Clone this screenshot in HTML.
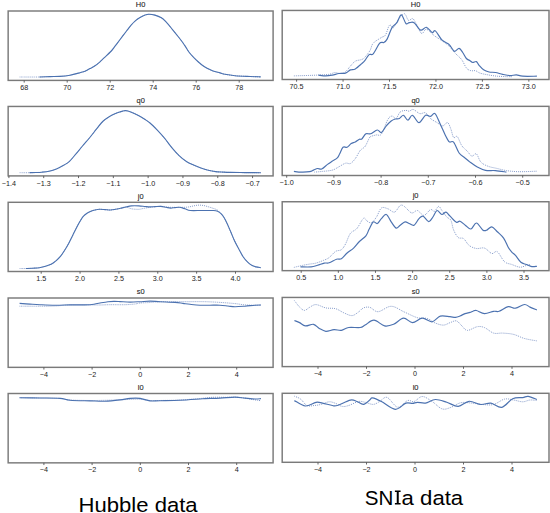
<!DOCTYPE html>
<html><head><meta charset="utf-8"><style>
html,body{margin:0;padding:0;background:#fff;width:550px;height:513px;overflow:hidden}
svg{display:block}
.t{font-family:"Liberation Sans",sans-serif;font-size:8.1px;fill:#222;stroke:#222;stroke-width:0.1px}
.k{font-family:"Liberation Sans",sans-serif;font-size:7.2px;fill:#222}
.b{font-family:"Liberation Sans",sans-serif;font-size:19.5px;fill:#000}
</style></head><body>
<svg width="550" height="513" viewBox="0 0 550 513">
<rect width="550" height="513" fill="#fff"/>
<path d="M19.70,77.00 C22.98,77.00 34.35,77.07 39.40,77.00 C44.45,76.93 46.57,76.70 50.00,76.60 C53.43,76.50 56.67,76.63 60.00,76.40 C63.33,76.17 66.67,75.82 70.00,75.20 C73.33,74.58 77.50,73.37 80.00,72.70 C82.50,72.03 83.33,71.88 85.00,71.20 C86.67,70.52 88.33,69.50 90.00,68.60 C91.67,67.70 93.33,66.93 95.00,65.80 C96.67,64.67 98.53,63.08 100.00,61.80 C101.47,60.52 102.00,59.82 103.80,58.10 C105.60,56.38 109.13,53.22 110.80,51.50 C112.47,49.78 112.77,49.12 113.80,47.80 C114.83,46.48 115.60,45.45 117.00,43.60 C118.40,41.75 120.62,38.80 122.20,36.70 C123.78,34.60 125.05,32.88 126.50,31.00 C127.95,29.12 129.48,27.03 130.90,25.40 C132.32,23.77 133.55,22.47 135.00,21.20 C136.45,19.93 137.92,18.82 139.60,17.80 C141.28,16.78 143.55,15.68 145.10,15.10 C146.65,14.52 147.27,14.30 148.90,14.30 C150.53,14.30 152.82,14.52 154.90,15.10 C156.98,15.68 159.58,16.72 161.40,17.80 C163.22,18.88 163.98,19.68 165.80,21.60 C167.62,23.52 170.12,26.65 172.30,29.30 C174.48,31.95 177.17,35.30 178.90,37.50 C180.63,39.70 181.60,40.98 182.70,42.50 C183.80,44.02 184.47,45.02 185.50,46.60 C186.53,48.18 187.55,50.20 188.90,52.00 C190.25,53.80 192.02,55.73 193.60,57.40 C195.18,59.07 196.83,60.62 198.40,62.00 C199.97,63.38 201.40,64.58 203.00,65.70 C204.60,66.82 206.33,67.82 208.00,68.70 C209.67,69.58 211.00,70.30 213.00,71.00 C215.00,71.70 218.00,72.35 220.00,72.90 C222.00,73.45 222.50,73.83 225.00,74.30 C227.50,74.77 230.83,75.33 235.00,75.70 C239.17,76.07 245.70,76.30 250.00,76.50 C254.30,76.70 259.00,76.83 260.80,76.90" fill="none" stroke="#7b93c6" stroke-width="1" stroke-dasharray="0.9 1.1"/>
<path d="M19.70,172.70 C21.33,172.70 26.78,172.73 29.50,172.70 C32.22,172.67 33.95,172.58 36.00,172.50 C38.05,172.42 39.62,172.42 41.80,172.20 C43.98,171.98 46.67,171.73 49.10,171.20 C51.53,170.67 53.98,169.98 56.40,169.00 C58.82,168.02 61.42,166.58 63.60,165.30 C65.78,164.02 67.55,163.07 69.50,161.30 C71.45,159.53 73.13,157.25 75.30,154.70 C77.47,152.15 80.08,148.87 82.50,146.00 C84.92,143.13 87.48,140.30 89.80,137.50 C92.12,134.70 94.25,131.87 96.40,129.20 C98.55,126.53 100.58,123.57 102.70,121.50 C104.82,119.43 106.97,118.13 109.10,116.80 C111.23,115.47 113.38,114.40 115.50,113.50 C117.62,112.60 120.12,111.88 121.80,111.40 C123.48,110.92 124.12,110.52 125.60,110.60 C127.08,110.68 128.57,111.08 130.70,111.90 C132.83,112.72 136.07,114.27 138.40,115.50 C140.73,116.73 142.77,118.05 144.70,119.30 C146.63,120.55 147.90,121.18 150.00,123.00 C152.10,124.82 154.88,127.67 157.30,130.20 C159.72,132.73 162.08,135.30 164.50,138.20 C166.92,141.10 169.37,144.70 171.80,147.60 C174.23,150.50 176.67,153.28 179.10,155.60 C181.53,157.92 183.98,159.92 186.40,161.50 C188.82,163.08 191.18,164.02 193.60,165.10 C196.02,166.18 198.47,167.15 200.90,168.00 C203.33,168.85 205.77,169.60 208.20,170.20 C210.63,170.80 213.08,171.28 215.50,171.60 C217.92,171.92 220.28,171.97 222.70,172.10 C225.12,172.23 226.28,172.32 230.00,172.40 C233.72,172.48 239.87,172.55 245.00,172.60 C250.13,172.65 258.17,172.68 260.80,172.70" fill="none" stroke="#7b93c6" stroke-width="1" stroke-dasharray="0.9 1.1"/>
<path d="M19.70,268.50 C20.73,268.50 23.68,268.55 25.90,268.50 C28.12,268.45 30.75,268.33 33.00,268.20 C35.25,268.07 37.32,268.02 39.40,267.70 C41.48,267.38 43.47,266.92 45.50,266.30 C47.53,265.68 49.85,264.92 51.60,264.00 C53.35,263.08 54.57,262.02 56.00,260.80 C57.43,259.58 58.78,258.42 60.20,256.70 C61.62,254.98 63.07,252.75 64.50,250.50 C65.93,248.25 67.38,245.82 68.80,243.20 C70.22,240.58 71.57,237.67 73.00,234.80 C74.43,231.93 76.15,228.38 77.40,226.00 C78.65,223.62 79.48,222.13 80.50,220.50 C81.52,218.87 82.42,217.40 83.50,216.20 C84.58,215.00 85.77,214.12 87.00,213.30 C88.23,212.48 89.57,211.85 90.90,211.30 C92.23,210.75 93.57,210.33 95.00,210.00 C96.43,209.67 97.83,209.37 99.50,209.30 C101.17,209.23 103.17,209.48 105.00,209.60 C106.83,209.72 108.75,210.05 110.50,210.00 C112.25,209.95 113.85,209.58 115.50,209.30 C117.15,209.02 118.65,208.68 120.40,208.30 C122.15,207.92 124.17,206.92 126.00,207.00 C127.83,207.08 129.27,208.42 131.40,208.80 C133.53,209.18 136.70,209.38 138.80,209.30 C140.90,209.22 142.17,208.62 144.00,208.30 C145.83,207.98 147.97,207.65 149.80,207.40 C151.63,207.15 153.15,206.97 155.00,206.80 C156.85,206.63 159.07,206.40 160.90,206.40 C162.73,206.40 164.37,206.65 166.00,206.80 C167.63,206.95 168.48,207.22 170.70,207.30 C172.92,207.38 177.08,207.30 179.30,207.30 C181.52,207.30 182.37,207.37 184.00,207.30 C185.63,207.23 187.43,207.15 189.10,206.90 C190.77,206.65 192.37,206.10 194.00,205.80 C195.63,205.50 197.23,205.13 198.90,205.10 C200.57,205.07 202.37,205.30 204.00,205.60 C205.63,205.90 207.20,206.45 208.70,206.90 C210.20,207.35 211.57,207.78 213.00,208.30 C214.43,208.82 215.97,209.10 217.30,210.00 C218.63,210.90 219.88,212.45 221.00,213.70 C222.12,214.95 222.98,215.87 224.00,217.50 C225.02,219.13 225.97,221.08 227.10,223.50 C228.23,225.92 229.57,229.13 230.80,232.00 C232.03,234.87 233.17,237.87 234.50,240.70 C235.83,243.53 237.37,246.33 238.80,249.00 C240.23,251.67 241.67,254.57 243.10,256.70 C244.53,258.83 245.97,260.37 247.40,261.80 C248.83,263.23 250.27,264.45 251.70,265.30 C253.13,266.15 254.48,266.50 256.00,266.90 C257.52,267.30 260.00,267.57 260.80,267.70" fill="none" stroke="#7b93c6" stroke-width="1" stroke-dasharray="0.9 1.1"/>
<path d="M19.60,306.20 C23.00,306.20 34.10,306.23 40.00,306.20 C45.90,306.17 50.00,306.22 55.00,306.00 C60.00,305.78 64.17,305.08 70.00,304.90 C75.83,304.72 85.00,304.88 90.00,304.90 C95.00,304.92 96.67,305.03 100.00,305.00 C103.33,304.97 105.83,304.75 110.00,304.70 C114.17,304.65 120.83,304.82 125.00,304.70 C129.17,304.58 132.50,304.28 135.00,304.00 C137.50,303.72 137.50,303.25 140.00,303.00 C142.50,302.75 146.67,302.72 150.00,302.50 C153.33,302.28 154.17,301.83 160.00,301.70 C165.83,301.57 177.50,301.70 185.00,301.70 C192.50,301.70 199.17,301.58 205.00,301.70 C210.83,301.82 215.00,302.08 220.00,302.40 C225.00,302.72 230.83,303.18 235.00,303.60 C239.17,304.02 241.67,304.63 245.00,304.90 C248.33,305.17 252.33,305.15 255.00,305.20 C257.67,305.25 260.00,305.20 261.00,305.20" fill="none" stroke="#7b93c6" stroke-width="1" stroke-dasharray="0.9 1.1"/>
<path d="M19.60,397.70 C23.00,397.75 33.27,397.88 40.00,398.00 C46.73,398.12 55.00,398.07 60.00,398.40 C65.00,398.73 65.00,399.65 70.00,400.00 C75.00,400.35 84.17,400.45 90.00,400.50 C95.83,400.55 100.00,400.42 105.00,400.30 C110.00,400.18 115.83,399.95 120.00,399.80 C124.17,399.65 126.67,399.50 130.00,399.40 C133.33,399.30 136.67,399.02 140.00,399.20 C143.33,399.38 146.67,400.28 150.00,400.50 C153.33,400.72 155.00,400.58 160.00,400.50 C165.00,400.42 173.33,400.33 180.00,400.00 C186.67,399.67 194.67,398.95 200.00,398.50 C205.33,398.05 207.83,397.50 212.00,397.30 C216.17,397.10 220.33,397.27 225.00,397.30 C229.67,397.33 235.00,397.07 240.00,397.50 C245.00,397.93 251.50,399.37 255.00,399.90 C258.50,400.43 260.00,400.57 261.00,400.70" fill="none" stroke="#7b93c6" stroke-width="1" stroke-dasharray="0.9 1.1"/>
<path d="M293.90,75.90 C297.85,75.77 311.73,75.37 317.60,75.10 C323.47,74.83 326.23,74.72 329.10,74.30 C331.97,73.88 332.90,72.73 334.80,72.60 C336.70,72.47 338.72,73.63 340.50,73.50 C342.28,73.37 343.85,73.03 345.50,71.80 C347.15,70.57 348.77,67.87 350.40,66.10 C352.03,64.33 353.40,62.30 355.30,61.20 C357.20,60.10 360.18,60.18 361.80,59.50 C363.42,58.82 363.63,58.60 365.00,57.10 C366.37,55.60 368.63,52.82 370.00,50.50 C371.37,48.18 371.30,45.37 373.20,43.20 C375.10,41.03 379.35,38.87 381.40,37.50 C383.45,36.13 384.15,37.05 385.50,35.00 C386.85,32.95 388.15,26.43 389.50,25.20 C390.85,23.97 392.23,28.42 393.60,27.60 C394.97,26.78 395.92,22.62 397.70,20.30 C399.48,17.98 402.52,13.70 404.30,13.70 C406.08,13.70 407.03,19.48 408.40,20.30 C409.77,21.12 411.28,18.20 412.50,18.60 C413.72,19.00 414.20,20.23 415.70,22.70 C417.20,25.17 419.72,32.30 421.50,33.40 C423.28,34.50 424.23,28.90 426.40,29.30 C428.57,29.70 431.92,33.90 434.50,35.80 C437.08,37.70 439.57,39.07 441.90,40.70 C444.23,42.33 446.23,43.47 448.50,45.60 C450.77,47.73 453.28,51.13 455.50,53.50 C457.72,55.87 459.98,57.38 461.80,59.80 C463.62,62.22 464.88,66.18 466.40,68.00 C467.92,69.82 469.38,70.25 470.90,70.70 C472.42,71.15 473.98,70.30 475.50,70.70 C477.02,71.10 477.88,72.40 480.00,73.10 C482.12,73.80 485.32,74.38 488.20,74.90 C491.08,75.42 493.97,75.90 497.30,76.20 C500.63,76.50 505.75,76.62 508.20,76.70 C510.65,76.78 511.37,76.70 512.00,76.70" fill="none" stroke="#7b93c6" stroke-width="1" stroke-dasharray="0.9 1.1"/>
<path d="M314.40,172.10 C315.75,171.98 319.50,171.73 322.50,171.40 C325.50,171.07 329.67,170.87 332.40,170.10 C335.13,169.33 336.72,167.95 338.90,166.80 C341.08,165.65 343.58,163.75 345.50,163.20 C347.42,162.65 348.77,164.27 350.40,163.50 C352.03,162.73 353.67,160.77 355.30,158.60 C356.93,156.43 358.57,152.53 360.20,150.50 C361.83,148.47 363.60,148.45 365.10,146.40 C366.60,144.35 368.27,139.85 369.20,138.20 C370.13,136.55 369.48,137.05 370.70,136.50 C371.92,135.95 374.72,135.30 376.50,134.90 C378.28,134.50 379.50,136.68 381.40,134.10 C383.30,131.52 386.13,122.40 387.90,119.40 C389.67,116.40 390.63,116.25 392.00,116.10 C393.37,115.95 394.73,119.18 396.10,118.50 C397.47,117.82 398.57,113.35 400.20,112.00 C401.83,110.65 404.40,110.53 405.90,110.40 C407.40,110.27 407.97,111.35 409.20,111.20 C410.43,111.05 411.53,109.10 413.30,109.50 C415.07,109.90 417.77,113.05 419.80,113.60 C421.83,114.15 423.72,111.98 425.50,112.80 C427.28,113.62 428.58,116.87 430.50,118.50 C432.42,120.13 434.97,121.37 437.00,122.60 C439.03,123.83 440.93,125.90 442.70,125.90 C444.47,125.90 446.23,122.05 447.60,122.60 C448.97,123.15 449.90,126.72 450.90,129.20 C451.90,131.68 452.53,136.27 453.60,137.50 C454.67,138.73 455.93,135.23 457.30,136.60 C458.67,137.97 460.13,143.27 461.80,145.70 C463.47,148.13 465.63,149.47 467.30,151.20 C468.97,152.93 470.28,155.65 471.80,156.10 C473.32,156.55 474.88,152.90 476.40,153.90 C477.92,154.90 478.93,160.03 480.90,162.10 C482.87,164.17 485.47,165.23 488.20,166.30 C490.93,167.37 494.27,167.78 497.30,168.50 C500.33,169.22 502.77,170.07 506.40,170.60 C510.03,171.13 514.02,171.60 519.10,171.70 C524.18,171.80 533.93,171.28 536.90,171.20" fill="none" stroke="#7b93c6" stroke-width="1" stroke-dasharray="0.9 1.1"/>
<path d="M293.90,267.40 C295.40,267.05 300.30,265.85 302.90,265.30 C305.50,264.75 307.32,264.47 309.50,264.10 C311.68,263.73 313.68,263.72 316.00,263.10 C318.32,262.48 321.22,261.32 323.40,260.40 C325.58,259.48 327.07,259.10 329.10,257.60 C331.13,256.10 333.55,252.72 335.60,251.40 C337.65,250.08 339.75,250.93 341.40,249.70 C343.05,248.47 344.00,246.72 345.50,244.00 C347.00,241.28 348.50,235.98 350.40,233.40 C352.30,230.82 354.72,231.02 356.90,228.50 C359.08,225.98 361.82,219.55 363.50,218.30 C365.18,217.05 365.67,220.27 367.00,221.00 C368.33,221.73 369.92,223.37 371.50,222.70 C373.08,222.03 374.85,219.45 376.50,217.00 C378.15,214.55 379.50,209.37 381.40,208.00 C383.30,206.63 385.72,208.12 387.90,208.80 C390.08,209.48 392.45,212.65 394.50,212.10 C396.55,211.55 398.57,206.45 400.20,205.50 C401.83,204.55 402.40,205.17 404.30,206.40 C406.20,207.63 409.42,212.22 411.60,212.90 C413.78,213.58 415.35,210.08 417.40,210.50 C419.45,210.92 421.72,215.55 423.90,215.40 C426.08,215.25 428.73,210.28 430.50,209.60 C432.27,208.92 433.15,211.83 434.50,211.30 C435.85,210.77 437.37,206.53 438.60,206.40 C439.83,206.27 440.53,208.73 441.90,210.50 C443.27,212.27 445.30,215.37 446.80,217.00 C448.30,218.63 449.77,218.15 450.90,220.30 C452.03,222.45 452.38,227.03 453.60,229.90 C454.82,232.77 456.53,236.05 458.20,237.50 C459.87,238.95 461.78,237.28 463.60,238.60 C465.42,239.92 466.97,243.75 469.10,245.40 C471.23,247.05 473.83,248.05 476.40,248.50 C478.97,248.95 481.93,247.27 484.50,248.10 C487.07,248.93 489.67,252.90 491.80,253.50 C493.93,254.10 495.18,250.33 497.30,251.70 C499.42,253.07 502.08,259.57 504.50,261.70 C506.92,263.83 509.22,263.58 511.80,264.50 C514.38,265.42 517.57,267.05 520.00,267.20 C522.43,267.35 524.73,265.85 526.40,265.40 C528.07,264.95 529.40,264.65 530.00,264.50" fill="none" stroke="#7b93c6" stroke-width="1" stroke-dasharray="0.9 1.1"/>
<path d="M294.40,300.50 C295.27,301.60 297.92,305.45 299.60,307.10 C301.28,308.75 302.85,310.35 304.50,310.40 C306.15,310.45 307.58,308.37 309.50,307.40 C311.42,306.43 313.28,304.52 316.00,304.60 C318.72,304.68 322.53,307.22 325.80,307.90 C329.07,308.58 332.60,307.88 335.60,308.70 C338.60,309.52 341.07,311.65 343.80,312.80 C346.53,313.95 349.55,315.73 352.00,315.60 C354.45,315.47 356.58,313.28 358.50,312.00 C360.42,310.72 361.60,308.67 363.50,307.90 C365.40,307.13 367.47,306.77 369.90,307.40 C372.33,308.03 374.55,311.88 378.10,311.70 C381.65,311.52 386.83,306.25 391.20,306.30 C395.57,306.35 399.93,310.10 404.30,312.00 C408.67,313.90 413.58,316.62 417.40,317.70 C421.22,318.78 424.20,317.60 427.20,318.50 C430.20,319.40 432.68,322.00 435.40,323.10 C438.12,324.20 441.07,325.17 443.50,325.10 C445.93,325.03 447.85,323.40 450.00,322.70 C452.15,322.00 454.43,320.38 456.40,320.90 C458.37,321.42 459.98,324.22 461.80,325.80 C463.62,327.38 464.72,330.25 467.30,330.40 C469.88,330.55 474.43,327.17 477.30,326.70 C480.17,326.23 481.78,326.53 484.50,327.60 C487.22,328.67 490.57,332.18 493.60,333.10 C496.63,334.02 499.37,332.88 502.70,333.10 C506.03,333.32 509.97,333.50 513.60,334.40 C517.23,335.30 520.62,337.42 524.50,338.50 C528.38,339.58 534.83,340.50 536.90,340.90" fill="none" stroke="#7b93c6" stroke-width="1" stroke-dasharray="0.9 1.1"/>
<path d="M294.40,396.20 C295.42,396.67 298.40,397.45 300.50,399.00 C302.60,400.55 304.68,404.42 307.00,405.50 C309.32,406.58 312.08,405.68 314.40,405.50 C316.72,405.32 318.45,405.02 320.90,404.40 C323.35,403.78 326.65,401.97 329.10,401.80 C331.55,401.63 333.42,402.63 335.60,403.40 C337.78,404.17 340.02,406.05 342.20,406.40 C344.38,406.75 345.98,406.32 348.70,405.50 C351.42,404.68 355.77,402.03 358.50,401.50 C361.23,400.97 362.65,401.82 365.10,402.30 C367.55,402.78 370.77,404.53 373.20,404.40 C375.63,404.27 377.38,402.67 379.70,401.50 C382.02,400.33 384.10,396.45 387.10,397.40 C390.10,398.35 394.30,406.67 397.70,407.20 C401.10,407.73 404.77,401.55 407.50,400.60 C410.23,399.65 411.63,402.18 414.10,401.50 C416.57,400.82 419.30,396.50 422.30,396.50 C425.30,396.50 428.83,399.45 432.10,401.50 C435.37,403.55 438.90,407.77 441.90,408.80 C444.90,409.83 446.93,408.72 450.10,407.70 C453.27,406.68 457.28,403.47 460.90,402.70 C464.52,401.93 468.17,402.80 471.80,403.10 C475.43,403.40 479.07,404.27 482.70,404.50 C486.33,404.73 489.97,405.40 493.60,404.50 C497.23,403.60 501.17,399.85 504.50,399.10 C507.83,398.35 510.57,399.55 513.60,400.00 C516.63,400.45 519.97,401.80 522.70,401.80 C525.43,401.80 527.63,400.22 530.00,400.00 C532.37,399.78 535.75,400.42 536.90,400.50" fill="none" stroke="#7b93c6" stroke-width="1" stroke-dasharray="0.9 1.1"/>
<path d="M39.40,77.00 C41.17,76.93 46.57,76.70 50.00,76.60 C53.43,76.50 56.67,76.63 60.00,76.40 C63.33,76.17 66.67,75.82 70.00,75.20 C73.33,74.58 77.50,73.37 80.00,72.70 C82.50,72.03 83.33,71.88 85.00,71.20 C86.67,70.52 88.33,69.50 90.00,68.60 C91.67,67.70 93.33,66.93 95.00,65.80 C96.67,64.67 98.53,63.08 100.00,61.80 C101.47,60.52 102.00,59.82 103.80,58.10 C105.60,56.38 109.13,53.22 110.80,51.50 C112.47,49.78 112.77,49.12 113.80,47.80 C114.83,46.48 115.60,45.45 117.00,43.60 C118.40,41.75 120.62,38.80 122.20,36.70 C123.78,34.60 125.05,32.88 126.50,31.00 C127.95,29.12 129.48,27.03 130.90,25.40 C132.32,23.77 133.55,22.47 135.00,21.20 C136.45,19.93 137.92,18.82 139.60,17.80 C141.28,16.78 143.55,15.68 145.10,15.10 C146.65,14.52 147.27,14.30 148.90,14.30 C150.53,14.30 152.82,14.52 154.90,15.10 C156.98,15.68 159.58,16.72 161.40,17.80 C163.22,18.88 163.98,19.68 165.80,21.60 C167.62,23.52 170.12,26.65 172.30,29.30 C174.48,31.95 177.17,35.30 178.90,37.50 C180.63,39.70 181.60,40.98 182.70,42.50 C183.80,44.02 184.47,45.02 185.50,46.60 C186.53,48.18 187.55,50.20 188.90,52.00 C190.25,53.80 192.02,55.73 193.60,57.40 C195.18,59.07 196.83,60.62 198.40,62.00 C199.97,63.38 201.40,64.58 203.00,65.70 C204.60,66.82 206.33,67.82 208.00,68.70 C209.67,69.58 211.00,70.30 213.00,71.00 C215.00,71.70 218.00,72.35 220.00,72.90 C222.00,73.45 222.50,73.83 225.00,74.30 C227.50,74.77 230.83,75.33 235.00,75.70 C239.17,76.07 245.70,76.30 250.00,76.50 C254.30,76.70 259.00,76.83 260.80,76.90" fill="none" stroke="#4c72b0" stroke-width="1.1" stroke-linejoin="round" stroke-linecap="butt"/>
<path d="M29.50,172.60 C30.58,172.58 33.95,172.57 36.00,172.50 C38.05,172.43 39.62,172.42 41.80,172.20 C43.98,171.98 46.67,171.73 49.10,171.20 C51.53,170.67 53.98,169.98 56.40,169.00 C58.82,168.02 61.42,166.58 63.60,165.30 C65.78,164.02 67.55,163.07 69.50,161.30 C71.45,159.53 73.13,157.25 75.30,154.70 C77.47,152.15 80.08,148.87 82.50,146.00 C84.92,143.13 87.48,140.30 89.80,137.50 C92.12,134.70 94.25,131.87 96.40,129.20 C98.55,126.53 100.58,123.57 102.70,121.50 C104.82,119.43 106.97,118.13 109.10,116.80 C111.23,115.47 113.38,114.40 115.50,113.50 C117.62,112.60 120.12,111.88 121.80,111.40 C123.48,110.92 124.12,110.52 125.60,110.60 C127.08,110.68 128.57,111.08 130.70,111.90 C132.83,112.72 136.07,114.27 138.40,115.50 C140.73,116.73 142.77,118.05 144.70,119.30 C146.63,120.55 147.90,121.18 150.00,123.00 C152.10,124.82 154.88,127.67 157.30,130.20 C159.72,132.73 162.08,135.30 164.50,138.20 C166.92,141.10 169.37,144.70 171.80,147.60 C174.23,150.50 176.67,153.28 179.10,155.60 C181.53,157.92 183.98,159.92 186.40,161.50 C188.82,163.08 191.18,164.02 193.60,165.10 C196.02,166.18 198.47,167.15 200.90,168.00 C203.33,168.85 205.77,169.60 208.20,170.20 C210.63,170.80 213.08,171.28 215.50,171.60 C217.92,171.92 220.28,171.97 222.70,172.10 C225.12,172.23 226.28,172.32 230.00,172.40 C233.72,172.48 239.87,172.55 245.00,172.60 C250.13,172.65 258.17,172.68 260.80,172.70" fill="none" stroke="#4c72b0" stroke-width="1.1" stroke-linejoin="round" stroke-linecap="butt"/>
<path d="M25.90,268.50 C27.08,268.45 30.75,268.33 33.00,268.20 C35.25,268.07 37.32,268.02 39.40,267.70 C41.48,267.38 43.47,266.92 45.50,266.30 C47.53,265.68 49.85,264.92 51.60,264.00 C53.35,263.08 54.57,262.02 56.00,260.80 C57.43,259.58 58.78,258.42 60.20,256.70 C61.62,254.98 63.07,252.75 64.50,250.50 C65.93,248.25 67.38,245.82 68.80,243.20 C70.22,240.58 71.57,237.67 73.00,234.80 C74.43,231.93 76.15,228.38 77.40,226.00 C78.65,223.62 79.48,222.13 80.50,220.50 C81.52,218.87 82.42,217.40 83.50,216.20 C84.58,215.00 85.77,214.12 87.00,213.30 C88.23,212.48 89.57,211.85 90.90,211.30 C92.23,210.75 93.57,210.33 95.00,210.00 C96.43,209.67 97.83,209.37 99.50,209.30 C101.17,209.23 103.17,209.48 105.00,209.60 C106.83,209.72 108.75,210.05 110.50,210.00 C112.25,209.95 113.85,209.58 115.50,209.30 C117.15,209.02 118.65,208.68 120.40,208.30 C122.15,207.92 124.17,207.40 126.00,207.00 C127.83,206.60 129.27,206.08 131.40,205.90 C133.53,205.72 136.53,205.80 138.80,205.90 C141.07,206.00 143.17,206.33 145.00,206.50 C146.83,206.67 148.13,206.88 149.80,206.90 C151.47,206.92 153.15,206.68 155.00,206.60 C156.85,206.52 159.07,206.28 160.90,206.40 C162.73,206.52 164.37,207.02 166.00,207.30 C167.63,207.58 169.20,208.05 170.70,208.10 C172.20,208.15 173.57,207.73 175.00,207.60 C176.43,207.47 177.63,207.10 179.30,207.30 C180.97,207.50 183.17,208.27 185.00,208.80 C186.83,209.33 187.57,210.22 190.30,210.50 C193.03,210.78 197.52,210.50 201.40,210.50 C205.28,210.50 210.83,210.33 213.60,210.50 C216.37,210.67 216.77,210.97 218.00,211.50 C219.23,212.03 220.00,212.70 221.00,213.70 C222.00,214.70 222.98,215.87 224.00,217.50 C225.02,219.13 225.97,221.08 227.10,223.50 C228.23,225.92 229.57,229.13 230.80,232.00 C232.03,234.87 233.17,237.87 234.50,240.70 C235.83,243.53 237.37,246.33 238.80,249.00 C240.23,251.67 241.67,254.57 243.10,256.70 C244.53,258.83 245.97,260.37 247.40,261.80 C248.83,263.23 250.27,264.45 251.70,265.30 C253.13,266.15 254.48,266.50 256.00,266.90 C257.52,267.30 260.00,267.57 260.80,267.70" fill="none" stroke="#4c72b0" stroke-width="1.1" stroke-linejoin="round" stroke-linecap="butt"/>
<path d="M19.60,303.40 C21.33,303.52 26.60,303.88 30.00,304.10 C33.40,304.32 35.83,304.52 40.00,304.70 C44.17,304.88 50.00,305.17 55.00,305.20 C60.00,305.23 65.83,304.95 70.00,304.90 C74.17,304.85 76.67,304.93 80.00,304.90 C83.33,304.87 87.50,304.85 90.00,304.70 C92.50,304.55 93.33,304.28 95.00,304.00 C96.67,303.72 97.83,303.38 100.00,303.00 C102.17,302.62 105.67,301.97 108.00,301.70 C110.33,301.43 112.00,301.42 114.00,301.40 C116.00,301.38 117.33,301.48 120.00,301.60 C122.67,301.72 126.67,302.08 130.00,302.10 C133.33,302.12 136.67,301.87 140.00,301.70 C143.33,301.53 146.67,301.10 150.00,301.10 C153.33,301.10 155.83,301.48 160.00,301.70 C164.17,301.92 171.17,302.12 175.00,302.40 C178.83,302.68 180.50,303.08 183.00,303.40 C185.50,303.72 187.17,304.00 190.00,304.30 C192.83,304.60 196.67,305.05 200.00,305.20 C203.33,305.35 206.67,305.20 210.00,305.20 C213.33,305.20 217.00,305.07 220.00,305.20 C223.00,305.33 225.50,305.73 228.00,306.00 C230.50,306.27 232.17,306.77 235.00,306.80 C237.83,306.83 241.67,306.47 245.00,306.20 C248.33,305.93 252.33,305.40 255.00,305.20 C257.67,305.00 260.00,305.03 261.00,305.00" fill="none" stroke="#4c72b0" stroke-width="1.1" stroke-linejoin="round" stroke-linecap="butt"/>
<path d="M19.60,397.70 C23.00,397.75 33.27,397.88 40.00,398.00 C46.73,398.12 55.00,398.02 60.00,398.40 C65.00,398.78 65.00,399.88 70.00,400.30 C75.00,400.72 84.17,400.75 90.00,400.90 C95.83,401.05 100.00,401.37 105.00,401.20 C110.00,401.03 115.83,400.37 120.00,399.90 C124.17,399.43 126.67,398.65 130.00,398.40 C133.33,398.15 136.67,397.98 140.00,398.40 C143.33,398.82 146.67,400.52 150.00,400.90 C153.33,401.28 155.00,400.80 160.00,400.70 C165.00,400.60 173.33,400.58 180.00,400.30 C186.67,400.02 195.83,399.28 200.00,399.00 C204.17,398.72 201.67,398.75 205.00,398.60 C208.33,398.45 215.00,398.35 220.00,398.10 C225.00,397.85 230.83,397.10 235.00,397.10 C239.17,397.10 241.67,397.78 245.00,398.10 C248.33,398.42 252.33,398.92 255.00,399.00 C257.67,399.08 260.00,398.67 261.00,398.60" fill="none" stroke="#4c72b0" stroke-width="1.1" stroke-linejoin="round" stroke-linecap="butt"/>
<path d="M318.50,75.10 C319.72,75.23 323.48,75.90 325.80,75.90 C328.12,75.90 330.22,75.50 332.40,75.10 C334.58,74.70 336.72,73.83 338.90,73.50 C341.08,73.17 343.58,73.70 345.50,73.10 C347.42,72.50 348.77,70.60 350.40,69.90 C352.03,69.20 353.40,69.95 355.30,68.90 C357.20,67.85 360.18,65.02 361.80,63.60 C363.42,62.18 363.78,61.90 365.00,60.40 C366.22,58.90 367.73,55.70 369.10,54.60 C370.47,53.50 371.43,55.70 373.20,53.80 C374.97,51.90 377.93,45.10 379.70,43.20 C381.47,41.30 382.57,43.08 383.80,42.40 C385.03,41.72 385.73,41.57 387.10,39.10 C388.47,36.63 390.37,30.33 392.00,27.60 C393.63,24.87 395.35,24.82 396.90,22.70 C398.45,20.58 399.80,14.77 401.30,14.90 C402.80,15.03 404.58,22.20 405.90,23.50 C407.22,24.80 407.83,22.83 409.20,22.70 C410.57,22.57 412.20,21.47 414.10,22.70 C416.00,23.93 418.55,29.33 420.60,30.10 C422.65,30.87 424.48,26.90 426.40,27.30 C428.32,27.70 430.60,31.90 432.10,32.50 C433.60,33.10 433.77,29.67 435.40,30.90 C437.03,32.13 439.72,37.72 441.90,39.90 C444.08,42.08 446.98,42.82 448.50,44.00 C450.02,45.18 450.00,45.78 451.00,47.00 C452.00,48.22 453.15,51.07 454.50,51.30 C455.85,51.53 457.73,48.20 459.10,48.40 C460.47,48.60 461.48,50.82 462.70,52.50 C463.92,54.18 465.18,57.13 466.40,58.50 C467.62,59.87 468.95,60.03 470.00,60.70 C471.05,61.37 471.63,62.35 472.70,62.50 C473.77,62.65 475.33,61.13 476.40,61.60 C477.47,62.07 477.90,63.93 479.10,65.30 C480.30,66.67 481.93,68.68 483.60,69.80 C485.27,70.92 487.12,71.55 489.10,72.00 C491.08,72.45 493.23,72.10 495.50,72.50 C497.77,72.90 500.28,73.88 502.70,74.40 C505.12,74.92 507.72,75.52 510.00,75.60 C512.28,75.68 514.28,74.80 516.40,74.90 C518.52,75.00 519.28,75.98 522.70,76.20 C526.12,76.42 534.53,76.20 536.90,76.20" fill="none" stroke="#4c72b0" stroke-width="1.18" stroke-linejoin="round" stroke-linecap="butt"/>
<path d="M293.90,171.40 C295.13,171.52 298.70,172.05 301.30,172.10 C303.90,172.15 307.47,172.03 309.50,171.70 C311.53,171.37 312.15,170.63 313.50,170.10 C314.85,169.57 316.23,168.68 317.60,168.50 C318.97,168.32 320.05,169.68 321.70,169.00 C323.35,168.32 325.72,165.72 327.50,164.40 C329.28,163.08 330.77,162.20 332.40,161.10 C334.03,160.00 336.08,159.03 337.30,157.80 C338.52,156.57 338.75,155.47 339.70,153.70 C340.65,151.93 341.77,148.28 343.00,147.20 C344.23,146.12 345.73,147.80 347.10,147.20 C348.47,146.60 349.83,144.47 351.20,143.60 C352.57,142.73 353.93,142.72 355.30,142.00 C356.67,141.28 358.32,139.80 359.40,139.30 C360.48,138.80 360.72,139.92 361.80,139.00 C362.88,138.08 364.42,134.67 365.90,133.80 C367.38,132.93 368.80,134.43 370.70,133.80 C372.60,133.17 375.52,130.22 377.30,130.00 C379.08,129.78 379.90,133.18 381.40,132.50 C382.90,131.82 384.67,127.82 386.30,125.90 C387.93,123.98 389.70,122.15 391.20,121.00 C392.70,119.85 393.93,119.42 395.30,119.00 C396.67,118.58 398.03,119.12 399.40,118.50 C400.77,117.88 402.08,115.02 403.50,115.30 C404.92,115.58 406.40,120.20 407.90,120.20 C409.40,120.20 410.65,114.90 412.50,115.30 C414.35,115.70 416.83,122.60 419.00,122.60 C421.17,122.60 423.58,116.33 425.50,115.30 C427.42,114.27 428.92,116.68 430.50,116.40 C432.08,116.12 433.37,112.28 435.00,113.60 C436.63,114.92 438.60,120.75 440.30,124.30 C442.00,127.85 443.70,131.97 445.20,134.90 C446.70,137.83 447.90,140.70 449.30,141.90 C450.70,143.10 451.97,140.25 453.60,142.10 C455.23,143.95 457.28,150.43 459.10,153.00 C460.92,155.57 462.68,155.98 464.50,157.50 C466.32,159.02 467.87,160.52 470.00,162.10 C472.13,163.68 474.72,165.63 477.30,167.00 C479.88,168.37 482.47,169.70 485.50,170.30 C488.53,170.90 492.02,170.30 495.50,170.60 C498.98,170.90 504.58,171.85 506.40,172.10" fill="none" stroke="#4c72b0" stroke-width="1.18" stroke-linejoin="round" stroke-linecap="butt"/>
<path d="M300.50,266.90 C302.27,266.90 308.25,267.17 311.10,266.90 C313.95,266.63 315.42,265.93 317.60,265.30 C319.78,264.67 322.28,263.52 324.20,263.10 C326.12,262.68 327.05,263.45 329.10,262.80 C331.15,262.15 334.45,259.88 336.50,259.20 C338.55,258.52 339.63,259.73 341.40,258.70 C343.17,257.67 345.07,254.77 347.10,253.00 C349.13,251.23 351.55,250.02 353.60,248.10 C355.65,246.18 357.35,243.55 359.40,241.50 C361.45,239.45 364.28,237.83 365.90,235.80 C367.52,233.77 367.88,231.62 369.10,229.30 C370.32,226.98 371.83,222.87 373.20,221.90 C374.57,220.93 375.93,224.05 377.30,223.50 C378.67,222.95 379.90,220.10 381.40,218.60 C382.90,217.10 384.67,213.95 386.30,214.50 C387.93,215.05 389.57,219.63 391.20,221.90 C392.83,224.17 394.60,227.55 396.10,228.10 C397.60,228.65 398.70,226.23 400.20,225.20 C401.70,224.17 403.60,222.18 405.10,221.90 C406.60,221.62 407.70,222.95 409.20,223.50 C410.70,224.05 412.47,226.02 414.10,225.20 C415.73,224.38 417.50,220.10 419.00,218.60 C420.50,217.10 421.47,215.70 423.10,216.20 C424.73,216.70 427.17,221.47 428.80,221.60 C430.43,221.73 431.53,218.85 432.90,217.00 C434.27,215.15 435.50,210.92 437.00,210.50 C438.50,210.08 440.40,214.23 441.90,214.50 C443.40,214.77 444.63,211.82 446.00,212.10 C447.37,212.38 448.37,214.50 450.10,216.20 C451.83,217.90 454.75,221.47 456.40,222.30 C458.05,223.13 458.48,220.68 460.00,221.20 C461.52,221.72 463.68,224.10 465.50,225.40 C467.32,226.70 469.08,229.40 470.90,229.00 C472.72,228.60 474.43,222.85 476.40,223.00 C478.37,223.15 481.03,228.68 482.70,229.90 C484.37,231.12 484.88,230.82 486.40,230.30 C487.92,229.78 489.98,226.57 491.80,226.80 C493.62,227.03 495.33,229.82 497.30,231.70 C499.27,233.58 501.78,235.52 503.60,238.10 C505.42,240.68 506.83,244.87 508.20,247.20 C509.57,249.53 510.58,250.73 511.80,252.10 C513.02,253.47 513.98,253.70 515.50,255.40 C517.02,257.10 519.08,260.78 520.90,262.30 C522.72,263.82 524.58,263.78 526.40,264.50 C528.22,265.22 530.05,266.30 531.80,266.60 C533.55,266.90 536.05,266.35 536.90,266.30" fill="none" stroke="#4c72b0" stroke-width="1.18" stroke-linejoin="round" stroke-linecap="butt"/>
<path d="M294.40,320.50 C295.27,320.85 297.77,321.70 299.60,322.60 C301.43,323.50 303.08,325.62 305.40,325.90 C307.72,326.18 311.18,323.88 313.50,324.30 C315.82,324.72 317.25,327.23 319.30,328.40 C321.35,329.57 323.35,331.08 325.80,331.30 C328.25,331.52 331.40,329.87 334.00,329.70 C336.60,329.53 338.95,330.67 341.40,330.30 C343.85,329.93 345.57,327.97 348.70,327.50 C351.83,327.03 357.47,327.90 360.20,327.50 C362.93,327.10 362.80,326.32 365.10,325.10 C367.40,323.88 370.75,320.07 374.00,320.20 C377.25,320.33 381.33,325.22 384.60,325.90 C387.87,326.58 390.45,325.58 393.60,324.30 C396.75,323.02 400.35,318.48 403.50,318.20 C406.65,317.92 409.37,322.60 412.50,322.60 C415.63,322.60 419.03,318.33 422.30,318.20 C425.57,318.07 429.10,322.15 432.10,321.80 C435.10,321.45 437.32,316.95 440.30,316.10 C443.28,315.25 447.47,316.50 450.00,316.70 C452.53,316.90 453.83,317.42 455.50,317.30 C457.17,317.18 458.42,316.62 460.00,316.00 C461.58,315.38 463.33,314.20 465.00,313.60 C466.67,313.00 468.67,312.80 470.00,312.40 C471.33,312.00 471.93,311.52 473.00,311.20 C474.07,310.88 474.48,310.10 476.40,310.50 C478.32,310.90 481.63,313.47 484.50,313.60 C487.37,313.73 491.17,311.68 493.60,311.30 C496.03,310.92 496.67,312.07 499.10,311.30 C501.53,310.53 505.47,307.22 508.20,306.70 C510.93,306.18 512.78,308.57 515.50,308.20 C518.22,307.83 522.08,304.68 524.50,304.50 C526.92,304.32 527.93,306.18 530.00,307.10 C532.07,308.02 535.75,309.52 536.90,310.00" fill="none" stroke="#4c72b0" stroke-width="1.18" stroke-linejoin="round" stroke-linecap="butt"/>
<path d="M294.40,400.60 C296.23,401.50 301.80,405.72 305.40,406.00 C309.00,406.28 313.15,402.78 316.00,402.30 C318.85,401.82 319.77,402.57 322.50,403.10 C325.23,403.63 329.93,405.10 332.40,405.50 C334.87,405.90 334.30,406.40 337.30,405.50 C340.30,404.60 347.13,400.77 350.40,400.10 C353.67,399.43 354.72,400.78 356.90,401.50 C359.08,402.22 361.32,404.68 363.50,404.40 C365.68,404.12 368.52,400.88 370.00,399.80 C371.48,398.72 370.50,397.62 372.40,397.90 C374.30,398.18 377.58,399.60 381.40,401.50 C385.22,403.40 391.22,409.03 395.30,409.30 C399.38,409.57 403.03,404.08 405.90,403.10 C408.77,402.12 410.58,403.53 412.50,403.40 C414.42,403.27 415.23,402.35 417.40,402.30 C419.57,402.25 422.50,403.57 425.50,403.10 C428.50,402.63 431.85,399.63 435.40,399.50 C438.95,399.37 443.00,401.15 446.80,402.30 C450.60,403.45 454.48,406.57 458.20,406.40 C461.92,406.23 465.32,401.62 469.10,401.30 C472.88,400.98 477.27,404.20 480.90,404.50 C484.53,404.80 487.42,402.63 490.90,403.10 C494.38,403.57 498.17,408.03 501.80,407.30 C505.43,406.57 509.22,400.32 512.70,398.70 C516.18,397.08 520.12,397.98 522.70,397.60 C525.28,397.22 525.83,396.08 528.20,396.40 C530.57,396.72 535.45,398.98 536.90,399.50" fill="none" stroke="#4c72b0" stroke-width="1.18" stroke-linejoin="round" stroke-linecap="butt"/>
<rect x="8.15" y="11" width="264.95" height="69.4" fill="none" stroke="#7a7a7a" stroke-width="1.45"/>
<text transform="translate(140.62,7.25) scale(0.92,1)" class="t" text-anchor="middle">H0</text>
<line x1="24.2" y1="80.4" x2="24.2" y2="82.6" stroke="#555" stroke-width="0.9"/>
<text x="24.2" y="90" class="k" text-anchor="middle">68</text>
<line x1="67.2" y1="80.4" x2="67.2" y2="82.6" stroke="#555" stroke-width="0.9"/>
<text x="67.2" y="90" class="k" text-anchor="middle">70</text>
<line x1="110.2" y1="80.4" x2="110.2" y2="82.6" stroke="#555" stroke-width="0.9"/>
<text x="110.2" y="90" class="k" text-anchor="middle">72</text>
<line x1="153.2" y1="80.4" x2="153.2" y2="82.6" stroke="#555" stroke-width="0.9"/>
<text x="153.2" y="90" class="k" text-anchor="middle">74</text>
<line x1="196.2" y1="80.4" x2="196.2" y2="82.6" stroke="#555" stroke-width="0.9"/>
<text x="196.2" y="90" class="k" text-anchor="middle">76</text>
<line x1="239.2" y1="80.4" x2="239.2" y2="82.6" stroke="#555" stroke-width="0.9"/>
<text x="239.2" y="90" class="k" text-anchor="middle">78</text>
<rect x="8.15" y="106.45" width="264.95" height="69.45" fill="none" stroke="#7a7a7a" stroke-width="1.45"/>
<text transform="translate(140.62,102.7) scale(0.92,1)" class="t" text-anchor="middle">q0</text>
<line x1="8.9" y1="175.9" x2="8.9" y2="178.1" stroke="#555" stroke-width="0.9"/>
<text x="8.9" y="185.5" class="k" text-anchor="middle">−1.4</text>
<line x1="43.71" y1="175.9" x2="43.71" y2="178.1" stroke="#555" stroke-width="0.9"/>
<text x="43.71" y="185.5" class="k" text-anchor="middle">−1.3</text>
<line x1="78.52" y1="175.9" x2="78.52" y2="178.1" stroke="#555" stroke-width="0.9"/>
<text x="78.52" y="185.5" class="k" text-anchor="middle">−1.2</text>
<line x1="113.33" y1="175.9" x2="113.33" y2="178.1" stroke="#555" stroke-width="0.9"/>
<text x="113.33" y="185.5" class="k" text-anchor="middle">−1.1</text>
<line x1="148.14" y1="175.9" x2="148.14" y2="178.1" stroke="#555" stroke-width="0.9"/>
<text x="148.14" y="185.5" class="k" text-anchor="middle">−1.0</text>
<line x1="182.95" y1="175.9" x2="182.95" y2="178.1" stroke="#555" stroke-width="0.9"/>
<text x="182.95" y="185.5" class="k" text-anchor="middle">−0.9</text>
<line x1="217.76" y1="175.9" x2="217.76" y2="178.1" stroke="#555" stroke-width="0.9"/>
<text x="217.76" y="185.5" class="k" text-anchor="middle">−0.8</text>
<line x1="252.57" y1="175.9" x2="252.57" y2="178.1" stroke="#555" stroke-width="0.9"/>
<text x="252.57" y="185.5" class="k" text-anchor="middle">−0.7</text>
<rect x="8.15" y="202.3" width="264.95" height="69.2" fill="none" stroke="#7a7a7a" stroke-width="1.45"/>
<text transform="translate(140.62,198.55) scale(0.92,1)" class="t" text-anchor="middle">j0</text>
<line x1="41.2" y1="271.5" x2="41.2" y2="273.7" stroke="#555" stroke-width="0.9"/>
<text x="41.2" y="281.1" class="k" text-anchor="middle">1.5</text>
<line x1="80.06" y1="271.5" x2="80.06" y2="273.7" stroke="#555" stroke-width="0.9"/>
<text x="80.06" y="281.1" class="k" text-anchor="middle">2.0</text>
<line x1="118.92" y1="271.5" x2="118.92" y2="273.7" stroke="#555" stroke-width="0.9"/>
<text x="118.92" y="281.1" class="k" text-anchor="middle">2.5</text>
<line x1="157.78" y1="271.5" x2="157.78" y2="273.7" stroke="#555" stroke-width="0.9"/>
<text x="157.78" y="281.1" class="k" text-anchor="middle">3.0</text>
<line x1="196.64" y1="271.5" x2="196.64" y2="273.7" stroke="#555" stroke-width="0.9"/>
<text x="196.64" y="281.1" class="k" text-anchor="middle">3.5</text>
<line x1="235.5" y1="271.5" x2="235.5" y2="273.7" stroke="#555" stroke-width="0.9"/>
<text x="235.5" y="281.1" class="k" text-anchor="middle">4.0</text>
<rect x="8.15" y="298" width="264.95" height="69.35" fill="none" stroke="#7a7a7a" stroke-width="1.45"/>
<text transform="translate(140.62,294.25) scale(0.92,1)" class="t" text-anchor="middle">s0</text>
<line x1="43.9" y1="367.35" x2="43.9" y2="369.55" stroke="#555" stroke-width="0.9"/>
<text x="43.9" y="376.95" class="k" text-anchor="middle">−4</text>
<line x1="92.1" y1="367.35" x2="92.1" y2="369.55" stroke="#555" stroke-width="0.9"/>
<text x="92.1" y="376.95" class="k" text-anchor="middle">−2</text>
<line x1="140.3" y1="367.35" x2="140.3" y2="369.55" stroke="#555" stroke-width="0.9"/>
<text x="140.3" y="376.95" class="k" text-anchor="middle">0</text>
<line x1="188.5" y1="367.35" x2="188.5" y2="369.55" stroke="#555" stroke-width="0.9"/>
<text x="188.5" y="376.95" class="k" text-anchor="middle">2</text>
<line x1="236.7" y1="367.35" x2="236.7" y2="369.55" stroke="#555" stroke-width="0.9"/>
<text x="236.7" y="376.95" class="k" text-anchor="middle">4</text>
<rect x="8.15" y="393.5" width="264.95" height="69.35" fill="none" stroke="#7a7a7a" stroke-width="1.45"/>
<text transform="translate(140.62,389.75) scale(0.92,1)" class="t" text-anchor="middle">l0</text>
<line x1="43.9" y1="462.85" x2="43.9" y2="465.05" stroke="#555" stroke-width="0.9"/>
<text x="43.9" y="472.45" class="k" text-anchor="middle">−4</text>
<line x1="92.1" y1="462.85" x2="92.1" y2="465.05" stroke="#555" stroke-width="0.9"/>
<text x="92.1" y="472.45" class="k" text-anchor="middle">−2</text>
<line x1="140.3" y1="462.85" x2="140.3" y2="465.05" stroke="#555" stroke-width="0.9"/>
<text x="140.3" y="472.45" class="k" text-anchor="middle">0</text>
<line x1="188.5" y1="462.85" x2="188.5" y2="465.05" stroke="#555" stroke-width="0.9"/>
<text x="188.5" y="472.45" class="k" text-anchor="middle">2</text>
<line x1="236.7" y1="462.85" x2="236.7" y2="465.05" stroke="#555" stroke-width="0.9"/>
<text x="236.7" y="472.45" class="k" text-anchor="middle">4</text>
<rect x="282.2" y="10.45" width="266.8" height="69.05" fill="none" stroke="#7a7a7a" stroke-width="1.45"/>
<text transform="translate(415.6,6.7) scale(0.92,1)" class="t" text-anchor="middle">H0</text>
<line x1="296.6" y1="79.5" x2="296.6" y2="81.7" stroke="#555" stroke-width="0.9"/>
<text x="296.6" y="89.1" class="k" text-anchor="middle">70.5</text>
<line x1="343.05" y1="79.5" x2="343.05" y2="81.7" stroke="#555" stroke-width="0.9"/>
<text x="343.05" y="89.1" class="k" text-anchor="middle">71.0</text>
<line x1="389.5" y1="79.5" x2="389.5" y2="81.7" stroke="#555" stroke-width="0.9"/>
<text x="389.5" y="89.1" class="k" text-anchor="middle">71.5</text>
<line x1="435.95" y1="79.5" x2="435.95" y2="81.7" stroke="#555" stroke-width="0.9"/>
<text x="435.95" y="89.1" class="k" text-anchor="middle">72.0</text>
<line x1="482.4" y1="79.5" x2="482.4" y2="81.7" stroke="#555" stroke-width="0.9"/>
<text x="482.4" y="89.1" class="k" text-anchor="middle">72.5</text>
<line x1="528.85" y1="79.5" x2="528.85" y2="81.7" stroke="#555" stroke-width="0.9"/>
<text x="528.85" y="89.1" class="k" text-anchor="middle">73.0</text>
<rect x="282.2" y="106.35" width="266.8" height="69.15" fill="none" stroke="#7a7a7a" stroke-width="1.45"/>
<text transform="translate(415.6,102.6) scale(0.92,1)" class="t" text-anchor="middle">q0</text>
<line x1="286.7" y1="175.5" x2="286.7" y2="177.7" stroke="#555" stroke-width="0.9"/>
<text x="286.7" y="185.1" class="k" text-anchor="middle">−1.0</text>
<line x1="333.9" y1="175.5" x2="333.9" y2="177.7" stroke="#555" stroke-width="0.9"/>
<text x="333.9" y="185.1" class="k" text-anchor="middle">−0.9</text>
<line x1="381.1" y1="175.5" x2="381.1" y2="177.7" stroke="#555" stroke-width="0.9"/>
<text x="381.1" y="185.1" class="k" text-anchor="middle">−0.8</text>
<line x1="428.3" y1="175.5" x2="428.3" y2="177.7" stroke="#555" stroke-width="0.9"/>
<text x="428.3" y="185.1" class="k" text-anchor="middle">−0.7</text>
<line x1="475.5" y1="175.5" x2="475.5" y2="177.7" stroke="#555" stroke-width="0.9"/>
<text x="475.5" y="185.1" class="k" text-anchor="middle">−0.6</text>
<line x1="522.7" y1="175.5" x2="522.7" y2="177.7" stroke="#555" stroke-width="0.9"/>
<text x="522.7" y="185.1" class="k" text-anchor="middle">−0.5</text>
<rect x="282.2" y="201.75" width="266.8" height="68.9" fill="none" stroke="#7a7a7a" stroke-width="1.45"/>
<text transform="translate(415.6,198) scale(0.92,1)" class="t" text-anchor="middle">j0</text>
<line x1="301.2" y1="270.65" x2="301.2" y2="272.85" stroke="#555" stroke-width="0.9"/>
<text x="301.2" y="280.25" class="k" text-anchor="middle">0.5</text>
<line x1="338.33" y1="270.65" x2="338.33" y2="272.85" stroke="#555" stroke-width="0.9"/>
<text x="338.33" y="280.25" class="k" text-anchor="middle">1.0</text>
<line x1="375.47" y1="270.65" x2="375.47" y2="272.85" stroke="#555" stroke-width="0.9"/>
<text x="375.47" y="280.25" class="k" text-anchor="middle">1.5</text>
<line x1="412.61" y1="270.65" x2="412.61" y2="272.85" stroke="#555" stroke-width="0.9"/>
<text x="412.61" y="280.25" class="k" text-anchor="middle">2.0</text>
<line x1="449.74" y1="270.65" x2="449.74" y2="272.85" stroke="#555" stroke-width="0.9"/>
<text x="449.74" y="280.25" class="k" text-anchor="middle">2.5</text>
<line x1="486.88" y1="270.65" x2="486.88" y2="272.85" stroke="#555" stroke-width="0.9"/>
<text x="486.88" y="280.25" class="k" text-anchor="middle">3.0</text>
<line x1="524.01" y1="270.65" x2="524.01" y2="272.85" stroke="#555" stroke-width="0.9"/>
<text x="524.01" y="280.25" class="k" text-anchor="middle">3.5</text>
<rect x="282.2" y="297.45" width="266.8" height="69.15" fill="none" stroke="#7a7a7a" stroke-width="1.45"/>
<text transform="translate(415.6,293.7) scale(0.92,1)" class="t" text-anchor="middle">s0</text>
<line x1="318" y1="366.6" x2="318" y2="368.8" stroke="#555" stroke-width="0.9"/>
<text x="318" y="376.2" class="k" text-anchor="middle">−4</text>
<line x1="366.5" y1="366.6" x2="366.5" y2="368.8" stroke="#555" stroke-width="0.9"/>
<text x="366.5" y="376.2" class="k" text-anchor="middle">−2</text>
<line x1="415" y1="366.6" x2="415" y2="368.8" stroke="#555" stroke-width="0.9"/>
<text x="415" y="376.2" class="k" text-anchor="middle">0</text>
<line x1="463.5" y1="366.6" x2="463.5" y2="368.8" stroke="#555" stroke-width="0.9"/>
<text x="463.5" y="376.2" class="k" text-anchor="middle">2</text>
<line x1="512" y1="366.6" x2="512" y2="368.8" stroke="#555" stroke-width="0.9"/>
<text x="512" y="376.2" class="k" text-anchor="middle">4</text>
<rect x="282.2" y="393.3" width="266.8" height="69" fill="none" stroke="#7a7a7a" stroke-width="1.45"/>
<text transform="translate(415.6,389.55) scale(0.92,1)" class="t" text-anchor="middle">l0</text>
<line x1="318" y1="462.3" x2="318" y2="464.5" stroke="#555" stroke-width="0.9"/>
<text x="318" y="471.9" class="k" text-anchor="middle">−4</text>
<line x1="366.5" y1="462.3" x2="366.5" y2="464.5" stroke="#555" stroke-width="0.9"/>
<text x="366.5" y="471.9" class="k" text-anchor="middle">−2</text>
<line x1="415" y1="462.3" x2="415" y2="464.5" stroke="#555" stroke-width="0.9"/>
<text x="415" y="471.9" class="k" text-anchor="middle">0</text>
<line x1="463.5" y1="462.3" x2="463.5" y2="464.5" stroke="#555" stroke-width="0.9"/>
<text x="463.5" y="471.9" class="k" text-anchor="middle">2</text>
<line x1="512" y1="462.3" x2="512" y2="464.5" stroke="#555" stroke-width="0.9"/>
<text x="512" y="471.9" class="k" text-anchor="middle">4</text>
<text x="78.6" y="511.7" class="b" style="font-size:20.5px" textLength="119" lengthAdjust="spacingAndGlyphs">Hubble data</text>
<text x="364.8" y="504.6" class="b" style="font-size:19.7px" textLength="28.6" lengthAdjust="spacingAndGlyphs">SN</text>
<path d="M394.9,490.4H400.6V492.1H398.75V502.9H400.6V504.6H394.9V502.9H396.75V492.1H394.9Z" fill="#000"/>
<text x="401.6" y="504.6" class="b" style="font-size:19.7px" textLength="61.6" lengthAdjust="spacingAndGlyphs">a data</text>
</svg>
</body></html>
